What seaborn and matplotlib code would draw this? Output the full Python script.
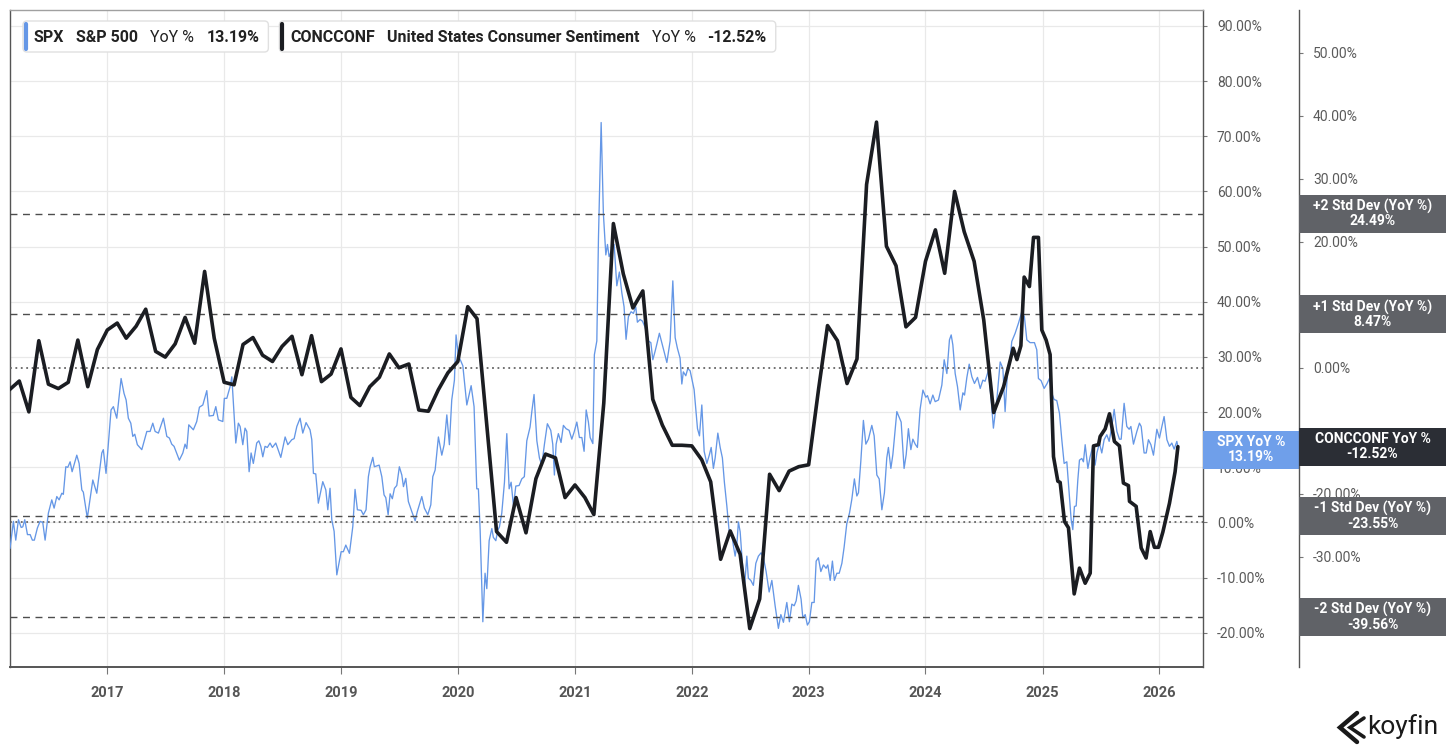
import matplotlib
matplotlib.use("Agg")
import matplotlib.pyplot as plt
import matplotlib.dates as mdates
import matplotlib.transforms as mtransforms
from matplotlib.patches import Rectangle, FancyBboxPatch
from matplotlib.ticker import FixedLocator, FuncFormatter
import numpy as np
import pandas as pd
import seaborn as sns

# ----------------------------------------------------------------
# Data
# ----------------------------------------------------------------
# SPX YoY %, irregular vertices, time as decimal year
spx_year = [
    2016.170, 2016.199, 2016.219, 2016.242, 2016.265, 2016.279, 2016.296, 2016.319, 2016.342, 2016.361,
    2016.378, 2016.404, 2016.427, 2016.450, 2016.470, 2016.498, 2016.527, 2016.547, 2016.570, 2016.590,
    2016.613, 2016.626, 2016.647, 2016.664, 2016.684, 2016.701, 2016.741, 2016.761, 2016.784, 2016.797,
    2016.831, 2016.878, 2016.912, 2016.955, 2016.968, 2016.991, 2017.034, 2017.054, 2017.083, 2017.120,
    2017.145, 2017.163, 2017.182, 2017.203, 2017.220, 2017.237, 2017.259, 2017.297, 2017.340, 2017.368,
    2017.391, 2017.411, 2017.439, 2017.482, 2017.511, 2017.533, 2017.553, 2017.573, 2017.618, 2017.648,
    2017.667, 2017.682, 2017.699, 2017.738, 2017.767, 2017.790, 2017.819, 2017.853, 2017.873, 2017.909,
    2017.930, 2017.952, 2017.990, 2018.003, 2018.024, 2018.052, 2018.067, 2018.101, 2018.123, 2018.138,
    2018.161, 2018.180, 2018.195, 2018.215, 2018.232, 2018.251, 2018.280, 2018.298, 2018.315, 2018.332,
    2018.351, 2018.371, 2018.394, 2018.414, 2018.443, 2018.486, 2018.523, 2018.546, 2018.580, 2018.600,
    2018.623, 2018.651, 2018.674, 2018.702, 2018.736, 2018.751, 2018.765, 2018.785, 2018.807, 2018.845,
    2018.871, 2018.888, 2018.907, 2018.922, 2018.942, 2018.965, 2019.002, 2019.021, 2019.042, 2019.073,
    2019.102, 2019.121, 2019.141, 2019.173, 2019.192, 2019.215, 2019.235, 2019.250, 2019.273, 2019.286,
    2019.327, 2019.350, 2019.369, 2019.384, 2019.404, 2019.421, 2019.440, 2019.458, 2019.478, 2019.500,
    2019.521, 2019.535, 2019.555, 2019.577, 2019.606, 2019.635, 2019.654, 2019.692, 2019.714, 2019.743,
    2019.769, 2019.786, 2019.806, 2019.834, 2019.863, 2019.883, 2019.906, 2019.928, 2019.948, 2019.971,
    2019.985, 2020.005, 2020.025, 2020.043, 2020.077, 2020.114, 2020.139, 2020.162, 2020.176, 2020.191,
    2020.214, 2020.233, 2020.248, 2020.268, 2020.291, 2020.304, 2020.325, 2020.342, 2020.356, 2020.376,
    2020.399, 2020.419, 2020.439, 2020.456, 2020.476, 2020.496, 2020.524, 2020.547, 2020.569, 2020.590,
    2020.618, 2020.633, 2020.652, 2020.676, 2020.698, 2020.718, 2020.741, 2020.766, 2020.795, 2020.812,
    2020.826, 2020.841, 2020.860, 2020.883, 2020.903, 2020.926, 2020.952, 2020.975, 2020.995, 2021.018,
    2021.040, 2021.061, 2021.080, 2021.098, 2021.117, 2021.132, 2021.155, 2021.168, 2021.189, 2021.203,
    2021.226, 2021.245, 2021.266, 2021.280, 2021.294, 2021.317, 2021.337, 2021.360, 2021.382, 2021.403,
    2021.422, 2021.439, 2021.459, 2021.482, 2021.502, 2021.522, 2021.536, 2021.559, 2021.579, 2021.602,
    2021.630, 2021.651, 2021.668, 2021.687, 2021.702, 2021.724, 2021.745, 2021.764, 2021.788, 2021.816,
    2021.839, 2021.859, 2021.878, 2021.901, 2021.916, 2021.929, 2021.950, 2021.967, 2021.987, 2022.021,
    2022.050, 2022.067, 2022.087, 2022.107, 2022.130, 2022.152, 2022.167, 2022.186, 2022.201, 2022.224,
    2022.244, 2022.263, 2022.280, 2022.301, 2022.320, 2022.343, 2022.357, 2022.372, 2022.386, 2022.400,
    2022.415, 2022.434, 2022.451, 2022.472, 2022.485, 2022.506, 2022.528, 2022.549, 2022.571, 2022.594,
    2022.614, 2022.637, 2022.663, 2022.686, 2022.714, 2022.742, 2022.763, 2022.785, 2022.814, 2022.836,
    2022.857, 2022.877, 2022.894, 2022.913, 2022.936, 2022.951, 2022.971, 2022.990, 2023.007, 2023.028,
    2023.048, 2023.065, 2023.084, 2023.105, 2023.127, 2023.150, 2023.165, 2023.185, 2023.204, 2023.221,
    2023.242, 2023.262, 2023.285, 2023.304, 2023.327, 2023.350, 2023.370, 2023.392, 2023.413, 2023.427,
    2023.447, 2023.469, 2023.490, 2023.512, 2023.541, 2023.561, 2023.584, 2023.604, 2023.627, 2023.649,
    2023.669, 2023.683, 2023.704, 2023.721, 2023.755, 2023.792, 2023.817, 2023.835, 2023.854, 2023.875,
    2023.892, 2023.912, 2023.931, 2023.954, 2023.978, 2024.003, 2024.017, 2024.040, 2024.063, 2024.083,
    2024.111, 2024.140, 2024.160, 2024.183, 2024.205, 2024.220, 2024.234, 2024.254, 2024.274, 2024.297,
    2024.320, 2024.334, 2024.354, 2024.374, 2024.397, 2024.419, 2024.445, 2024.468, 2024.491, 2024.510,
    2024.539, 2024.562, 2024.581, 2024.610, 2024.639, 2024.662, 2024.681, 2024.701, 2024.724, 2024.738,
    2024.767, 2024.795, 2024.824, 2024.846, 2024.867, 2024.895, 2024.932, 2024.952, 2024.966, 2024.989,
    2025.015, 2025.038, 2025.060, 2025.081, 2025.100, 2025.123, 2025.146, 2025.166, 2025.186, 2025.209,
    2025.229, 2025.246, 2025.260, 2025.274, 2025.289, 2025.303, 2025.317, 2025.337, 2025.351, 2025.366,
    2025.389, 2025.408, 2025.431, 2025.451, 2025.466, 2025.488, 2025.508, 2025.528, 2025.551, 2025.571,
    2025.594, 2025.614, 2025.637, 2025.659, 2025.674, 2025.699, 2025.722, 2025.742, 2025.757, 2025.779,
    2025.808, 2025.830, 2025.845, 2025.870, 2025.888, 2025.907, 2025.928, 2025.950, 2025.979, 2026.001,
    2026.022, 2026.041, 2026.065, 2026.087, 2026.107, 2026.127, 2026.150, 2026.164,
]
spx_yoy = [
    -4.7, 0.2, -3.2, 0.5, -0.9, -0.8, 0.5, -2.2, -2.2, -3.2,
    -3.2, -1.0, 0.2, 0.0, -3.2, 1.7, 4.1, 2.6, 4.7, 4.1,
    5.3, 5.1, 10.1, 10.0, 11.0, 9.2, 12.2, 10.7, 5.9, 5.5,
    0.8, 7.7, 5.3, 12.6, 13.2, 8.9, 20.4, 21.0, 18.9, 26.1,
    23.4, 22.2, 18.9, 18.0, 15.6, 16.0, 14.1, 13.2, 16.5, 16.5,
    18.0, 16.5, 16.2, 18.9, 15.6, 15.3, 14.2, 13.8, 11.3, 12.6,
    14.2, 13.4, 17.7, 16.8, 18.3, 20.9, 21.3, 23.9, 19.3, 19.4,
    21.0, 18.6, 18.3, 22.5, 22.5, 24.6, 26.4, 14.4, 18.0, 17.4,
    14.1, 17.1, 16.5, 9.2, 12.6, 10.7, 14.4, 14.8, 13.8, 11.9,
    13.8, 13.6, 14.4, 13.6, 14.4, 11.8, 15.5, 14.1, 15.0, 15.2,
    17.4, 18.9, 16.2, 18.1, 16.8, 15.0, 8.9, 8.8, 3.5, 7.4,
    5.9, 2.3, 6.2, 0.5, -1.6, -9.5, -5.3, -5.3, -4.1, -5.6,
    -0.7, 6.0, 2.3, 2.2, 1.4, 2.3, 8.3, 10.1, 11.8, 10.1,
    10.4, 8.3, 5.0, 4.5, 1.4, 5.2, 4.3, 6.2, 6.7, 10.1,
    8.6, 6.5, 8.0, 3.8, 2.0, 0.3, 2.0, 4.7, 2.6, 1.4,
    3.2, 8.3, 9.5, 15.5, 12.2, 14.1, 19.5, 14.1, 22.2, 25.8,
    34.0, 30.1, 29.3, 28.4, 21.3, 24.8, 21.0, 6.1, 6.1, -1.4,
    -18.0, -9.2, -12.0, -3.3, -1.1, -2.7, -3.3, -1.4, -0.8, 1.7,
    7.3, 16.1, 6.1, 7.3, 3.0, 6.6, 6.7, 7.9, 8.3, 14.8,
    17.3, 20.1, 23.2, 14.8, 11.7, 10.4, 14.2, 17.9, 16.7, 14.2,
    8.6, 14.2, 16.1, 14.5, 17.6, 17.0, 16.7, 15.1, 16.4, 18.2,
    15.4, 15.4, 12.9, 20.4, 18.2, 15.4, 14.3, 30.4, 32.9, 51.6,
    72.5, 56.0, 48.5, 50.4, 48.2, 49.4, 50.4, 42.9, 45.4, 41.6,
    39.1, 33.2, 37.3, 38.2, 37.9, 39.1, 36.3, 36.8, 36.5, 35.4,
    32.9, 32.6, 29.5, 31.0, 32.3, 34.3, 32.6, 31.0, 29.0, 32.9,
    43.8, 33.5, 31.6, 29.8, 25.1, 27.3, 26.6, 27.9, 27.5, 24.1,
    17.0, 15.7, 21.3, 12.9, 10.7, 12.3, 13.6, 9.8, 11.7, 16.2,
    13.6, 11.7, 7.3, 3.0, -1.4, -2.0, -4.2, -6.1, -4.2, 0.1,
    -1.7, -7.4, -12.0, -6.1, -10.1, -10.5, -11.4, -7.4, -6.1, -5.5,
    -6.4, -8.9, -12.6, -10.5, -15.1, -19.2, -16.7, -18.1, -14.5, -18.0,
    -14.8, -15.1, -14.2, -11.4, -13.9, -17.3, -16.7, -18.6, -18.0, -14.5,
    -14.5, -7.0, -6.4, -8.9, -7.7, -8.3, -7.7, -10.5, -7.0, -10.5,
    -9.2, -9.2, -7.4, -4.5, -0.2, 1.7, 4.2, 7.9, 4.8, 5.4,
    11.1, 18.5, 14.2, 15.1, 17.6, 15.7, 8.6, 7.9, 2.3, 5.4,
    11.7, 13.6, 9.8, 12.3, 20.1, 18.2, 9.8, 12.3, 17.0, 13.2,
    15.1, 14.2, 13.6, 20.5, 24.0, 22.7, 23.0, 21.5, 23.1, 21.9,
    22.2, 24.9, 29.5, 27.0, 33.1, 34.0, 32.2, 27.0, 24.6, 20.4,
    23.5, 23.1, 26.3, 28.7, 26.4, 25.2, 26.3, 24.3, 25.8, 25.6,
    27.6, 22.2, 17.1, 22.2, 29.1, 27.9, 20.1, 27.0, 29.5, 32.8,
    34.3, 36.1, 38.2, 37.3, 33.1, 32.6, 32.6, 31.3, 26.1, 25.7,
    24.3, 25.1, 26.1, 23.4, 22.3, 22.1, 19.8, 15.0, 10.7, 11.0,
    5.3, 0.5, -1.3, 2.9, 3.0, 7.7, 11.3, 11.6, 11.0, 14.1,
    9.8, 11.9, 13.8, 10.4, 12.6, 14.4, 12.6, 15.0, 15.9, 14.7,
    17.4, 20.5, 16.5, 15.1, 15.1, 21.6, 17.4, 16.9, 17.4, 14.2,
    16.5, 18.0, 17.4, 12.6, 12.6, 15.0, 14.1, 12.2, 16.9, 15.3,
    17.4, 19.2, 15.0, 13.8, 14.4, 13.3, 14.7, 13.19,
]

# CONCCONF YoY %, monthly Mar 2016 .. Oct 2024
conc_start = "2016-03-01"
conc_monthly = [
    -3.5, -2.1, -7.0, 4.3, -2.6, -3.3, -2.3, 4.4, -3.0, 2.9,
    6.0, 7.1, 4.7, 6.6, 9.3, 2.6, 1.7, 3.8, 8.0, 3.9, 15.3, 4.7,
    -2.3, -2.7, 3.7, 4.8, 2.0, 1.0, 3.4, 5.0, -1.1, 5.1, -2.2, -1.0,
    3.0, -4.7, -6.0, -3.0, -1.5, 2.2, 0.0, 0.6, -6.7, -6.9, -3.5, -0.8,
    1.0, 9.7, 7.8, -9.4, -26.0, -27.7, -20.6, -26.2, -17.6, -13.7, -14.3, -20.6,
    -18.6, -20.6, -23.3, -5.6, 22.9, 14.9, 9.5, 12.2, -5.0, -9.1, -12.3, -12.3,
    -12.4, -14.6, -18.1, -30.4, -25.9, -29.6, -41.4, -36.7, -16.9, -19.5, -16.4, -15.7,
    -15.4, -3.4, 6.7, 4.3, -2.5, 1.4, 29.1, 39.0, 19.3, 16.2, 6.5, 8.0,
    16.9, 21.9, 15.0, 28.0, 21.6, 16.9, 7.6, -7.1, -3.0, 3.1,
]
# then roughly twice a month (decimal year)
conc_late_year = [
    2024.782, 2024.816, 2024.844, 2024.889, 2024.924, 2024.966, 2024.995, 2025.032, 2025.066, 2025.095,
    2025.132, 2025.152, 2025.189, 2025.223, 2025.272, 2025.317, 2025.366, 2025.409, 2025.437, 2025.480,
    2025.494, 2025.537, 2025.574, 2025.616, 2025.659, 2025.693, 2025.736, 2025.745, 2025.802, 2025.845,
    2025.887, 2025.922, 2025.958, 2025.993, 2026.030, 2026.087, 2026.135, 2026.159,
]
conc_late_yoy = [
    1.3, 3.5, 14.4, 12.9, 20.7, 20.7, 6.0, 4.4, 2.1, -14.1,
    -18.0, -18.2, -24.4, -25.4, -35.9, -31.8, -34.2, -32.6, -12.4, -12.2,
    -10.9, -9.7, -7.3, -11.7, -12.4, -18.3, -18.7, -21.2, -22.0, -28.6,
    -30.2, -26.0, -28.5, -28.5, -26.1, -21.5, -16.5, -12.52,
]

std_names = ["+2 Std Dev", "+1 Std Dev", "-1 Std Dev", "-2 Std Dev"]
std_values = [24.49, 8.47, -23.55, -39.56]

spx_last = 13.19
conc_last = -12.52
spx_ticks = list(range(-20, 91, 10))
conc_ticks = list(range(-40, 51, 10))
conc_hidden_ticks = [10, -10, -40]   # sit behind the value tags

# ----------------------------------------------------------------
# Style
# ----------------------------------------------------------------
BLUE = "#6597e6"
BLUE_TAG = "#6f9fea"
INK = "#1b1d22"
TAG_DARK = "#2b2e35"
TAG_GREY = "#606267"
TICK = "#5a5a5a"
GRID = "#e9e9e9"

sns.set_theme(style="white")
plt.rcParams["font.family"] = ["Roboto", "DejaVu Sans"]


def to_dates(years):
    years = np.asarray(years, dtype=float)
    return pd.Timestamp("2016-01-01") + pd.to_timedelta((years - 2016.0) * 365.25, unit="D")


spx = pd.DataFrame({"date": to_dates(spx_year), "yoy": spx_yoy})
conc = pd.concat([
    pd.DataFrame({"date": pd.date_range(conc_start, periods=len(conc_monthly), freq="MS"),
                  "yoy": conc_monthly}),
    pd.DataFrame({"date": to_dates(conc_late_year), "yoy": conc_late_yoy}),
], ignore_index=True)

W, H = 1456, 752
L, R, T, B = 10, 1203, 10, 667
fig = plt.figure(figsize=(W / 100, H / 100), dpi=100)
ax = fig.add_axes([L / W, 1 - B / H, (R - L) / W, (B - T) / H])
ax2 = ax.twinx()

ax.set_ylim(-26.2, 92.9)
ax2.set_ylim(-47.5, 56.8)
ax.set_xlim(pd.Timestamp("2016-03-03"), pd.Timestamp("2026-05-17"))

# lines
sns.lineplot(data=spx, x="date", y="yoy", ax=ax, color=BLUE, linewidth=0.95,
             estimator=None, sort=False, legend=False, zorder=3)
sns.lineplot(data=conc, x="date", y="yoy", ax=ax2, color=INK, linewidth=2.6,
             estimator=None, sort=False, legend=False, zorder=4)

# std-dev bands and zero lines
for v in std_values:
    ax2.axhline(v, color="#4d4d4d", lw=1.0, ls=(0, (5, 4)), zorder=1)
ax2.axhline(0, color="#666666", lw=1.3, ls=(0, (1, 2)), zorder=1)
ax.axhline(0, color="#666666", lw=1.3, ls=(0, (1, 2)), zorder=1)

# axes cosmetics
ax.set_xlabel("")
ax.set_ylabel("")
ax2.set_xlabel("")
ax2.set_ylabel("")
ax.grid(True, color=GRID, lw=0.9)
ax.set_axisbelow(True)

pct = FuncFormatter(lambda v, _: f"{v:.2f}%")
pct2 = FuncFormatter(lambda v, _: "" if round(v) in conc_hidden_ticks else f"{v:.2f}%")
ax.yaxis.set_major_locator(FixedLocator(spx_ticks))
ax.yaxis.set_major_formatter(pct)
ax.yaxis.tick_right()
ax.tick_params(axis="y", which="both", left=False, right=True, labelleft=False, labelright=True,
               length=3, width=0.8, color="#777", labelsize=10, labelcolor=TICK, pad=7)
ax2.yaxis.set_major_locator(FixedLocator(conc_ticks))
ax2.yaxis.set_major_formatter(pct2)
ax2.tick_params(axis="y", length=3, width=0.8, color="#777", labelsize=10, labelcolor=TICK, pad=7)
ax2.spines["right"].set_position(("axes", (1299 - L) / (R - L)))
for s in ["top", "left", "bottom"]:
    ax2.spines[s].set_visible(False)
ax2.spines["right"].set_color("#555")
ax2.spines["right"].set_linewidth(1.0)

ax.spines["top"].set_color("#a0a0a0")
ax.spines["left"].set_color("#555")
ax.spines["right"].set_color("#555")
ax.spines["bottom"].set_color("#555")
ax.spines["bottom"].set_linewidth(1.4)
for s in ["top", "left", "right"]:
    ax.spines[s].set_linewidth(1.0)

ax.xaxis.set_major_locator(mdates.YearLocator())
ax.xaxis.set_major_formatter(mdates.DateFormatter("%Y"))
ax.tick_params(axis="x", bottom=True, length=5, width=0.8, color="#777", labelsize=10.5,
               labelcolor="#555", pad=9)
for lab in ax.get_xticklabels():
    lab.set_fontweight("bold")

# right-hand value tags
ppu1 = (B - T) / (ax.get_ylim()[1] - ax.get_ylim()[0])
ppu2 = (B - T) / (ax2.get_ylim()[1] - ax2.get_ylim()[0])
tag_h = 38
x_mid = (1299 - L) / (R - L)
x_end = (1446 - L) / (R - L)
tr1 = mtransforms.blended_transform_factory(ax.transAxes, ax.transData)
tr2 = mtransforms.blended_transform_factory(ax2.transAxes, ax2.transData)

h1 = tag_h / ppu1
ax.add_patch(Rectangle((1.0, spx_last - h1 / 2), x_mid - 1.0, h1, transform=tr1,
                       facecolor=BLUE_TAG, edgecolor="none", clip_on=False, zorder=10))
ax.text((1.0 + x_mid) / 2, spx_last, f"SPX YoY %\n{spx_last:.2f}%", transform=tr1,
        ha="center", va="center", color="white", fontsize=10, fontweight="bold",
        linespacing=1.05, zorder=11, clip_on=False)

h2 = tag_h / ppu2
tags = [(f"{n} (YoY %)", v, TAG_GREY) for n, v in zip(std_names, std_values)]
tags.append(("CONCCONF YoY %", conc_last, TAG_DARK))
for name, v, col in tags:
    ax2.add_patch(Rectangle((x_mid, v - h2 / 2), x_end - x_mid, h2, transform=tr2,
                            facecolor=col, edgecolor="none", clip_on=False, zorder=10))
    ax2.text((x_mid + x_end) / 2, v, f"{name}\n{v:.2f}%", transform=tr2,
             ha="center", va="center", color="white", fontsize=10, fontweight="bold",
             linespacing=1.05, zorder=11, clip_on=False)

# overlay in pixel space for legend chips and logo
ov = fig.add_axes([0, 0, 1, 1])
ov.set_xlim(0, W)
ov.set_ylim(H, 0)
ov.axis("off")
renderer = fig.canvas.get_renderer()

chips = [
    (BLUE, [("SPX", "bold"), ("S&P 500", "bold"), ("YoY %", "normal"),
            (f"{spx_last:.2f}%", "bold")]),
    (INK, [("CONCCONF", "bold"), ("United States Consumer Sentiment", "bold"),
           ("YoY %", "normal"), (f"{conc_last:.2f}%", "bold")]),
]
gap = 12
x0 = 23
for col, parts in chips:
    cx = x0 + 11
    for txt, wt in parts:
        t = ov.text(cx, 37, txt, ha="left", va="center", fontsize=11.5, fontweight=wt,
                    color="#222222", zorder=7)
        bb = t.get_window_extent(renderer)
        cx += bb.width + gap
    x1 = cx - gap + 9
    ov.add_patch(FancyBboxPatch((x0, 21), x1 - x0, 31, boxstyle="round,pad=0,rounding_size=4",
                                facecolor="white", edgecolor="#e0e0e0", lw=1.0, zorder=5))
    ov.plot([x0 + 2.5, x0 + 2.5], [24, 49], color=col, lw=3, solid_capstyle="round", zorder=6)
    x0 = x1 + 11

# koyfin mark
ov.plot([1357, 1340, 1357], [713, 727.5, 742], color="#1a1a1a", lw=3.2,
        solid_joinstyle="miter", zorder=6)
ov.plot([1364, 1350, 1364], [718, 727.5, 737], color="#1a1a1a", lw=2.6,
        solid_joinstyle="miter", zorder=6)
ov.text(1367, 727, "koyfin", ha="left", va="center", fontsize=19, color="#1a1a1a", zorder=6)

fig.savefig("out.png", dpi=100, facecolor="white")
